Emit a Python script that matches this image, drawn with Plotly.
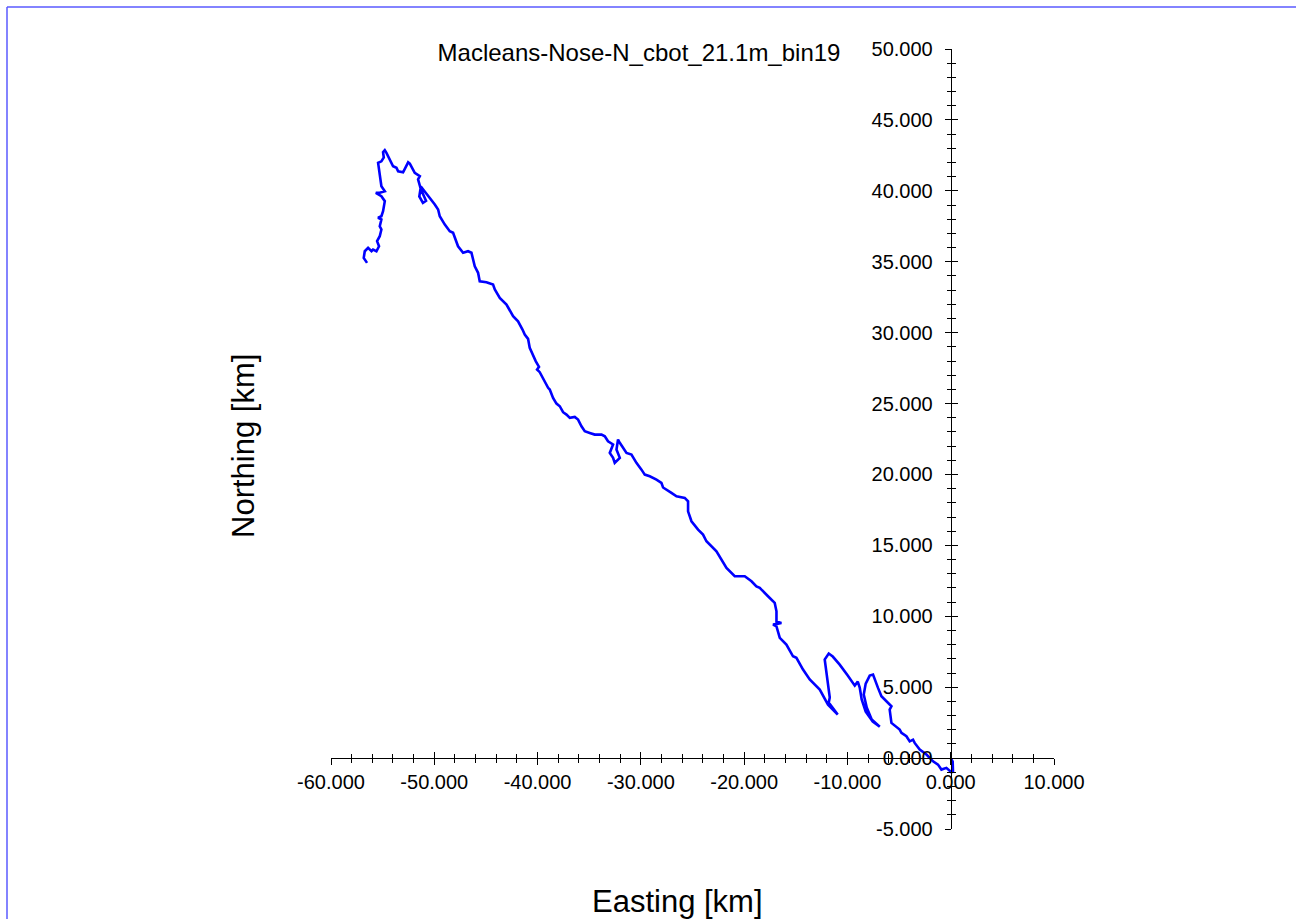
import plotly.graph_objects as go

# Progressive vector track (km), origin -> far end
easting = [0, 0.19, 0.22, 0.07, -0.42, -0.90, -1.23, -1.71, -2.35, -3.0, -3.49, -3.65, -3.97, -4.29,
           -4.77, -4.94, -5.74, -5.91, -5.74, -6.71, -7.04, -7.36, -7.52, -7.84, -8.23, -8.42, -8.13,
           -7.65, -6.87, -7.55, -8.23, -8.62, -8.81, -9.00, -9.29, -9.97, -10.75, -11.42, -11.81,
           -12.20, -11.91, -11.71, -11.81, -11.33, -10.94, -11.88, -12.52, -12.68, -13.65, -14.30,
           -14.94, -15.27, -15.91, -16.55, -16.87, -17.20, -16.39, -16.87, -16.87, -17.04, -17.69,
           -18.49, -18.81, -19.29, -19.94, -20.91, -21.71, -22.68, -23.65, -23.98, -24.46, -25.10,
           -25.43, -25.43, -25.75, -26.55, -27.04, -27.85, -28.01, -28.49, -29.14, -29.62, -29.94,
           -30.43, -30.91, -31.39, -32.04, -32.21, -32.36, -32.04, -32.53, -32.69, -33.01, -32.69,
           -33.18, -33.49, -33.81, -34.46, -34.95, -35.43, -35.75, -36.08, -36.40, -36.88, -37.20,
           -37.53, -37.85, -38.17, -38.50, -38.82, -38.98, -39.30, -39.79, -40.05, -39.86, -40.17,
           -40.44, -40.76, -40.92, -41.24, -41.46, -41.89, -42.37, -43.01, -43.66, -44.14, -44.31,
           -44.95, -45.60, -45.76, -46.08, -46.40, -46.73, -47.21, -47.70, -48.02, -48.18, -48.50,
           -48.98, -49.47, -49.63, -49.95, -50.44, -50.92, -51.30, -51.45, -51.10, -50.80, -51.30,
           -51.57, -51.40, -51.89, -52.37, -52.53, -52.86, -53.02, -53.50, -53.66, -53.99, -54.14,
           -54.37, -54.63, -54.79, -54.96, -54.89, -55.12, -55.44, -55.35, -55.21, -55.12, -54.79,
           -55.28, -55.66, -55.12, -54.79, -54.96, -55.12, -55.44, -55.12, -55.28, -55.12, -55.28,
           -55.54, -55.35, -55.60, -55.93, -56.08, -56.41, -56.73, -56.83, -56.51]
northing = [0, -0.25, -0.93, -1.0, -0.69, -0.81, -0.46, -0.23, 0.25, 0.60, 1.07, 1.30, 1.18, 1.54,
            1.78, 2.01, 2.48, 3.42, 3.65, 4.36, 4.95, 5.66, 5.89, 5.82, 5.25, 4.48, 3.56,
            2.72, 2.22, 2.57, 3.28, 4.13, 4.97, 5.39, 5.11, 5.82, 6.59, 7.16, 7.37,
            6.95, 5.54, 4.27, 3.91, 3.42, 3.07, 3.77, 4.60, 4.83, 5.54, 6.24,
            7.07, 7.18, 8.00, 8.48, 9.29, 9.41, 9.53, 9.63, 10.35, 10.94, 11.41,
            12.00, 12.11, 12.47, 12.82, 12.82, 13.41, 14.58, 15.29, 15.76, 16.11, 16.70,
            17.40, 18.11, 18.35, 18.46, 18.70, 19.08, 19.41, 19.64, 19.87, 19.99, 20.34,
            20.82, 21.40, 21.52, 22.23, 22.46, 21.76, 21.17, 20.82, 21.17, 21.52, 22.11,
            22.34, 22.69, 22.81, 22.81, 22.93, 23.05, 23.40, 23.87, 24.06, 23.99, 24.22,
            24.39, 24.81, 25.00, 25.40, 25.99, 26.11, 26.57, 27.21, 27.40, 27.59, 27.98,
            28.45, 28.93, 29.56, 29.87, 30.22, 30.80, 31.16, 31.98, 32.45, 33.04, 33.39,
            33.55, 33.62, 34.22, 34.68, 35.63, 35.74, 35.63, 36.09, 36.80, 37.04, 37.15,
            37.62, 38.21, 38.68, 39.03, 39.51, 39.97, 40.30, 39.60, 39.15, 39.30, 40.10,
            40.80, 41.03, 41.27, 41.92, 42.01, 41.50, 41.31, 41.38, 41.62, 41.73, 41.97,
            42.32, 42.68, 42.86, 42.72, 42.35, 42.08, 41.97, 41.50, 40.79, 40.32, 39.97,
            39.86, 39.86, 39.62, 39.27, 38.56, 38.21, 38.10, 37.98, 37.50, 37.27, 36.80,
            36.45, 36.09, 35.74, 35.86, 35.74, 35.98, 35.74, 35.27, 34.92]

x_range = [-60, 10]
y_range = [-5, 50]
x_tick_values = [-60, -50, -40, -30, -20, -10, 0, 10]
y_tick_values = [-5, 0, 5, 10, 15, 20, 25, 30, 35, 40, 45, 50]
x_tick_labels = [f"{v:.3f}" for v in x_tick_values]
y_tick_labels = [f"{v:.3f}" for v in y_tick_values]
title_text = "Macleans-Nose-N_cbot_21.1m_bin19"
x_title = "Easting [km]"
y_title = "Northing [km]"

W, H = 1298, 919
ML, MR, MT, MB = 331, 244, 49, 90
PW, PH = W - ML - MR, H - MT - MB

def px_to_paper_x(px):
    return (px - ML) / PW

def px_to_paper_y(py):
    return (H - MB - py) / PH

FONT = "Liberation Sans, Arial, sans-serif"

# positions of crossing axes at the data origin
x_axis_pos = (0 - y_range[0]) / (y_range[1] - y_range[0])
y_axis_pos = (0 - x_range[0]) / (x_range[1] - x_range[0])

fig = go.Figure()
fig.add_trace(go.Scatter(x=easting, y=northing, mode="lines",
                         line=dict(color="#0000ff", width=2.6), showlegend=False,
                         hoverinfo="skip"))
fig.add_trace(go.Scatter(x=[], y=[], xaxis="x2", yaxis="y2", showlegend=False))

common = dict(showgrid=False, zeroline=False, showline=True, linecolor="black",
              linewidth=1, tickcolor="black")

fig.update_layout(
    width=W, height=H, autosize=False,
    paper_bgcolor="white", plot_bgcolor="white",
    margin=dict(l=ML, r=MR, t=MT, b=MB, autoexpand=False),
    font=dict(family=FONT, color="black", size=20),
    xaxis=dict(range=x_range, anchor="free", position=x_axis_pos,
               tickmode="array", tickvals=x_tick_values, ticktext=x_tick_labels,
               ticks="outside", ticklen=6, tickwidth=1,
               tickfont=dict(size=20, family=FONT),
               minor=dict(dtick=2, ticks="outside", ticklen=4, tickcolor="black", showgrid=False),
               **common),
    yaxis=dict(range=y_range, anchor="free", position=y_axis_pos,
               tickmode="array", tickvals=y_tick_values, ticktext=y_tick_labels,
               ticks="outside", ticklen=6, tickwidth=1, ticklabelstandoff=8,
               tickfont=dict(size=20, family=FONT),
               minor=dict(dtick=1, ticks="outside", ticklen=4, tickcolor="black", showgrid=False),
               **common),
    xaxis2=dict(range=x_range, matches="x", overlaying="x", anchor="free", position=x_axis_pos,
                dtick=10, ticks="inside", ticklen=6, tickwidth=1, showticklabels=False,
                minor=dict(dtick=2, ticks="inside", ticklen=4, tickcolor="black", showgrid=False),
                **common),
    yaxis2=dict(range=y_range, matches="y", overlaying="y", anchor="free", position=y_axis_pos,
                dtick=5, ticks="inside", ticklen=6, tickwidth=1, showticklabels=False,
                minor=dict(dtick=1, ticks="inside", ticklen=4, tickcolor="black", showgrid=False),
                **common),
    title=dict(text=title_text, x=px_to_paper_x(639), xref="paper", xanchor="center",
               y=1 - 53 / H, yref="container", yanchor="middle",
               font=dict(size=24, family=FONT, color="black")),
    annotations=[
        dict(text=y_title, textangle=-90, xref="paper", yref="paper",
             x=px_to_paper_x(243), y=px_to_paper_y(446), xanchor="center", yanchor="middle",
             showarrow=False, font=dict(size=31, family=FONT, color="black")),
        dict(text=x_title, xref="paper", yref="paper",
             x=px_to_paper_x(677), y=px_to_paper_y(901), xanchor="center", yanchor="middle",
             showarrow=False, font=dict(size=31, family=FONT, color="black")),
    ],
    shapes=[
        dict(type="line", xref="paper", yref="paper",
             x0=px_to_paper_x(7), x1=px_to_paper_x(1296),
             y0=px_to_paper_y(7), y1=px_to_paper_y(7),
             line=dict(color="rgb(90,90,255)", width=1.5)),
        dict(type="line", xref="paper", yref="paper",
             x0=px_to_paper_x(7), x1=px_to_paper_x(7),
             y0=px_to_paper_y(7), y1=px_to_paper_y(919),
             line=dict(color="rgb(90,90,255)", width=1.5)),
    ],
)

fig.write_html("out.html")
